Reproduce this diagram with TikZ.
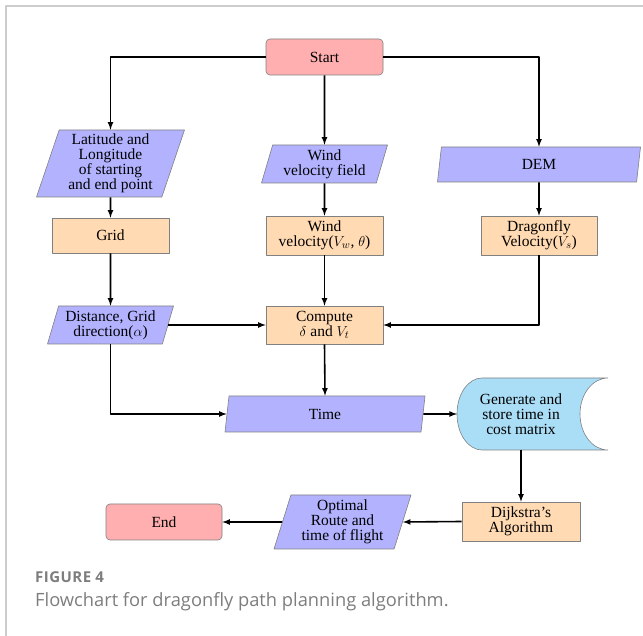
\documentclass[tikz,border=0pt]{standalone}
\usepackage{fontspec}
\setmainfont{Liberation Serif}
\newfontfamily\capfont{Open Sans}
\newfontfamily\capfontsp[LetterSpace=3]{Open Sans}
\usetikzlibrary{shapes.geometric,backgrounds}

\definecolor{termred}{RGB}{255,175,175}
\definecolor{ioblue}{RGB}{178,178,255}
\definecolor{procorange}{RGB}{255,218,178}
\definecolor{genblue}{RGB}{170,222,247}
\definecolor{framegray}{RGB}{204,204,204}
\definecolor{capgray}{RGB}{125,125,125}

\tikzset{
  base/.style={draw=black!50, line width=0.6bp, align=center, inner sep=0pt,
    font=\fontsize{15.5bp}{15bp}\selectfont},
  terminal/.style={base, rectangle, rounded corners=4bp, fill=termred},
  io/.style={base, trapezium, trapezium left angle=69, trapezium right angle=111,
    trapezium stretches body, fill=ioblue},
  process/.style={base, rectangle, fill=procorange},
  flow/.style={->, line width=1.6bp},
}

\begin{document}
\begin{tikzpicture}[>=latex,line join=bevel,]
\useasboundingbox (0,0) rectangle (643bp,636bp);
%% frame
\draw [framegray,line width=1.2bp] (643bp,630bp) -- (6bp,630bp) -- (6bp,0bp);
%% nodes
\node (start) at (324.5bp,579bp) [terminal,minimum width=117bp,minimum height=36bp] {Start};
\node (lat) at (110.5bp,472.5bp) [io,minimum width=148bp,minimum height=67bp] {Latitude and\\Longitude\\of starting\\and end point};
\node (wfield) at (324.5bp,472bp) [io,minimum width=126bp,minimum height=38bp] {Wind\\velocity field};
\node (dem) at (539bp,471.5bp) [io,minimum width=203bp,minimum height=35bp] {DEM};
\node (grid) at (110.5bp,400.5bp) [process,minimum width=117bp,minimum height=35bp] {Grid};
\node (wvel) at (324.5bp,400.5bp) [process,minimum width=117bp,minimum height=39bp] {Wind\\velocity($V_w$, $\theta$)};
\node (dvel) at (539bp,400.5bp) [process,minimum width=116bp,minimum height=39bp] {Dragonfly\\Velocity($V_s$)};
\node (dist) at (110.5bp,311bp) [io,minimum width=126bp,minimum height=38bp] {Distance, Grid\\direction($\alpha$)};
\node (comp) at (324.5bp,311bp) [process,minimum width=117bp,minimum height=38bp] {Compute\\$\delta$ and $V_t$};
\node (time) at (325bp,222bp) [io,minimum width=200bp,minimum height=36bp] {Time};
\node (gen) at (521bp,222bp) [base,draw=none] {Generate and\\store time in\\cost matrix};
\begin{scope}[on background layer]
\draw [draw=black!50,line width=0.6bp,fill=genblue] (608bp,258bp)
  arc[start angle=90,end angle=270,x radius=28bp,y radius=36bp] -- (482bp,186bp)
  arc[start angle=270,end angle=90,x radius=25bp,y radius=36bp] -- cycle;
\end{scope}
\coordinate (genin) at (457bp,222bp);
\coordinate (genout) at (521bp,186bp);
\node (dij) at (521bp,114.5bp) [process,minimum width=118bp,minimum height=39bp] {Dijkstra’s\\Algorithm};
\node (opt) at (342.5bp,114bp) [io,minimum width=137bp,minimum height=54bp] {Optimal\\Route and\\time of flight};
\node (end) at (164bp,114bp) [terminal,minimum width=116bp,minimum height=36bp] {End};
%% connectors
\draw [flow] (start.west) -| (lat.north);
\draw [flow] (start.south) -- (wfield.north);
\draw [flow] (start.east) -| (dem.north);
\draw [flow] (lat.south) -- (grid.north);
\draw [flow] (wfield.south) -- (wvel.north);
\draw [flow] (dem.south) -- (dvel.north);
\draw [flow] (grid.south) -- (dist.north);
\draw [flow] (wvel.south) -- (comp.north);
\draw [flow] (dvel.south) |- (comp.east);
\draw [flow] (dist.east) -- (comp.west);
\draw [flow] (dist.south) |- (time.west);
\draw [flow] (comp.south) -- (time.north);
\draw [flow] (time.east) -- (genin);
\draw [flow] (genout) -- (dij.north);
\draw [flow] (dij.west) -- (opt.east);
\draw [flow] (opt.west) -- (end.east);
%% caption
\node (figno) at (35bp,53bp) [anchor=base west,inner sep=0pt,text=capgray,font=\capfontsp\fontsize{15bp}{16bp}\selectfont\bfseries] {FIGURE 4};
\node (figcap) at (35bp,30bp) [anchor=base west,inner sep=0pt,text=capgray,font=\capfont\fontsize{18.3bp}{20bp}\selectfont] {Flowchart for dragonfly path planning algorithm.};
%
\end{tikzpicture}
\end{document}
